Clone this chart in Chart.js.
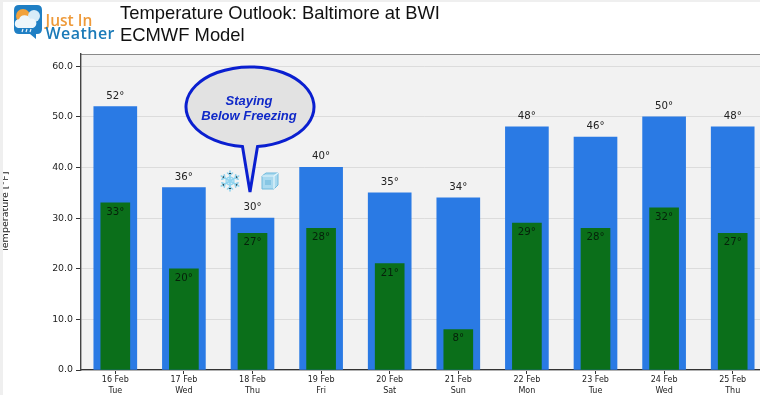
<!DOCTYPE html>
<html>
<head>
<meta charset="utf-8">
<style>
html,body{margin:0;padding:0;width:760px;height:395px;overflow:hidden;background:#fff}
#wrap{position:relative;width:760px;height:395px;overflow:hidden}
canvas{position:absolute;left:0;top:0}
#overlay{position:absolute;left:0;top:0}
.edge{position:absolute;background:#efefef}
</style>
<script src="https://cdn.jsdelivr.net/npm/chart.js@4"></script>
</head>
<body>
<div id="wrap">
<canvas id="c" width="768" height="395"></canvas>
<div class="edge" style="left:0;top:0;width:3px;height:395px"></div>
<div class="edge" style="left:0;top:0;width:760px;height:2px"></div>
<svg id="overlay" width="760" height="395" xmlns="http://www.w3.org/2000/svg">
  <text x="120" y="18.5" font-family="Liberation Sans" font-size="18.4" fill="#111">Temperature Outlook: Baltimore at BWI</text>
  <text x="120" y="40.5" font-family="Liberation Sans" font-size="18.4" fill="#111">ECMWF Model</text>
  <!-- logo -->
  <path d="M19 5 H37 Q42 5 42 10 V29 Q42 34 37 34 H36 L36 39 L30 34 H19 Q14 34 14 29 V10 Q14 5 19 5 Z" fill="#1f7fc4"/>
  <circle cx="23" cy="16" r="7" fill="#f2a23c"/>
  <circle cx="34" cy="16" r="6" fill="#d7ecf8"/>
  <path d="M18 28 a4.5 4.5 0 0 1 1 -8.8 a6 6 0 0 1 11 -0.5 a4.7 4.7 0 0 1 3 9.3 Z" fill="#eef6fb"/>
  <path d="M23 29 l-1 3 M27 29 l-1 3 M31 29 l-1 3" stroke="#eef6fb" stroke-width="1.2"/>
  <text x="45.5" y="25.5" font-family="Open Sans" font-size="15.5" font-weight="600" fill="#ee9a3a">Just In</text>
  <text x="45.5" y="39" font-family="Open Sans" font-size="16" font-weight="600" fill="#1a7ab8" textLength="69">Weather</text>
  <!-- callout -->
  <path d="M242.5 146.6 A64 40 0 1 1 257.5 146.6 L250 192 Z" fill="#e2e2e2" stroke="#0a1fd0" stroke-width="3" stroke-linejoin="miter"/>
  <text x="249" y="104.5" text-anchor="middle" font-family="Liberation Sans" font-size="13" font-weight="700" font-style="italic" fill="#1029c8">Staying</text>
  <text x="249" y="120" text-anchor="middle" font-family="Liberation Sans" font-size="13" font-weight="700" font-style="italic" fill="#1029c8">Below Freezing</text>
  <!-- snowflake -->
  <g stroke="#8fd3ee" stroke-width="1.6" stroke-linecap="round" transform="translate(230 181)">
    <circle r="4" fill="#cdeaf6" stroke-width="1.2"/>
    <path d="M0 -10 V10 M-8.7 -5 L8.7 5 M-8.7 5 L8.7 -5"/>
    <path d="M-2.5 -8 L0 -6 L2.5 -8 M-2.5 8 L0 6 L2.5 8 M-8.2 -1.8 L-5.2 -3 L-5.7 -6.2 M8.2 1.8 L5.2 3 L5.7 6.2 M-8.2 1.8 L-5.2 3 L-5.7 6.2 M8.2 -1.8 L5.2 -3 L5.7 -6.2"/>
  </g>
  <!-- ice cube -->
  <g transform="translate(261 172)">
    <path d="M1 4 L5 1 H17 L17 13 L13 17 H1 Z" fill="#a9d9ef" stroke="#6fb9dc" stroke-width="1"/>
    <path d="M1 4 H13 V17 M13 4 L17 1" fill="none" stroke="#e4f5fb" stroke-width="1.2"/>
    <path d="M4 8 H10 V13 H4 Z" fill="#6fb9dc" opacity=".6"/>
  </g>
</svg>
</div>
<script>
const categories = ["16 Feb","17 Feb","18 Feb","19 Feb","20 Feb","21 Feb","22 Feb","23 Feb","24 Feb","25 Feb"];
const weekdays = ["Tue","Wed","Thu","Fri","Sat","Sun","Mon","Tue","Wed","Thu"];
const highs = [52,36,30,40,35,34,48,46,50,48];
const lows = [33,20,27,28,21,8,29,28,32,27];
const yMax = 62.4;
const yTickStep = 10;
const yAxisTitle = "Temperature [°F]";

const frame = {
  id: 'frame',
  beforeDraw(chart) {
    const {ctx, chartArea: a} = chart;
    ctx.save();
    ctx.fillStyle = '#f2f2f2';
    ctx.fillRect(a.left, a.top, a.right - a.left, a.bottom - a.top);
    ctx.strokeStyle = '#8a8a8a';
    ctx.lineWidth = 1;
    ctx.beginPath();
    ctx.moveTo(a.left, a.top + 0.5);
    ctx.lineTo(a.right, a.top + 0.5);
    ctx.stroke();
    ctx.restore();
  }
};
const valueLabels = {
  id: 'valueLabels',
  afterDatasetsDraw(chart) {
    const {ctx} = chart;
    ctx.save();
    ctx.font = '10.2px "DejaVu Sans"';
    ctx.textAlign = 'center';
    ctx.textBaseline = 'alphabetic';
    chart.getDatasetMeta(0).data.forEach((bar, i) => {
      ctx.fillStyle = '#222';
      ctx.fillText(highs[i] + '°', bar.x, bar.y - 8);
    });
    chart.getDatasetMeta(1).data.forEach((bar, i) => {
      ctx.fillStyle = '#06210a';
      ctx.fillText(lows[i] + '°', bar.x, bar.y + 12);
    });
    ctx.restore();
  }
};

new Chart(document.getElementById('c'), {
  type: 'bar',
  data: {
    labels: categories.map((d, i) => [d, weekdays[i]]),
    datasets: [
      {label: 'High', data: highs, backgroundColor: '#2a7ae4', barThickness: 43, grouped: false, order: 2},
      {label: 'Low', data: lows, backgroundColor: '#0b6f1a', barThickness: 29, grouped: false, order: 1}
    ]
  },
  plugins: [frame, valueLabels],
  options: {
    responsive: false,
    animation: false,
    layout: {padding: {left: 0, right: 1, top: 54, bottom: 0}},
    plugins: {legend: {display: false}, title: {display: false}, tooltip: {enabled: false}},
    scales: {
      x: {
        offset: true,
        afterFit(s) { s.height = 25; },
        grid: {drawOnChartArea: false, color: '#333', tickLength: 4, offset: false},
        border: {color: '#333', width: 1.2},
        ticks: {color: '#222', font: {family: 'DejaVu Sans', size: 8, lineHeight: 1.35}, maxRotation: 0, autoSkip: false, padding: 1}
      },
      y: {
        min: 0,
        max: yMax,
        afterFit(s) { s.width = 81; },
        title: {display: true, text: yAxisTitle, color: '#222', font: {family: 'DejaVu Sans', size: 9.5}, padding: {top: 0, bottom: 10}},
        grid: {color: '#dcdcdc', tickColor: '#333', tickLength: 5, lineWidth: 1},
        border: {color: '#444', width: 1.4},
        ticks: {stepSize: yTickStep, includeBounds: false, color: '#222', padding: 3, font: {family: 'DejaVu Sans', size: 9.4}, callback: v => v.toFixed(1)}
      }
    }
  }
});
</script>
</body>
</html>
